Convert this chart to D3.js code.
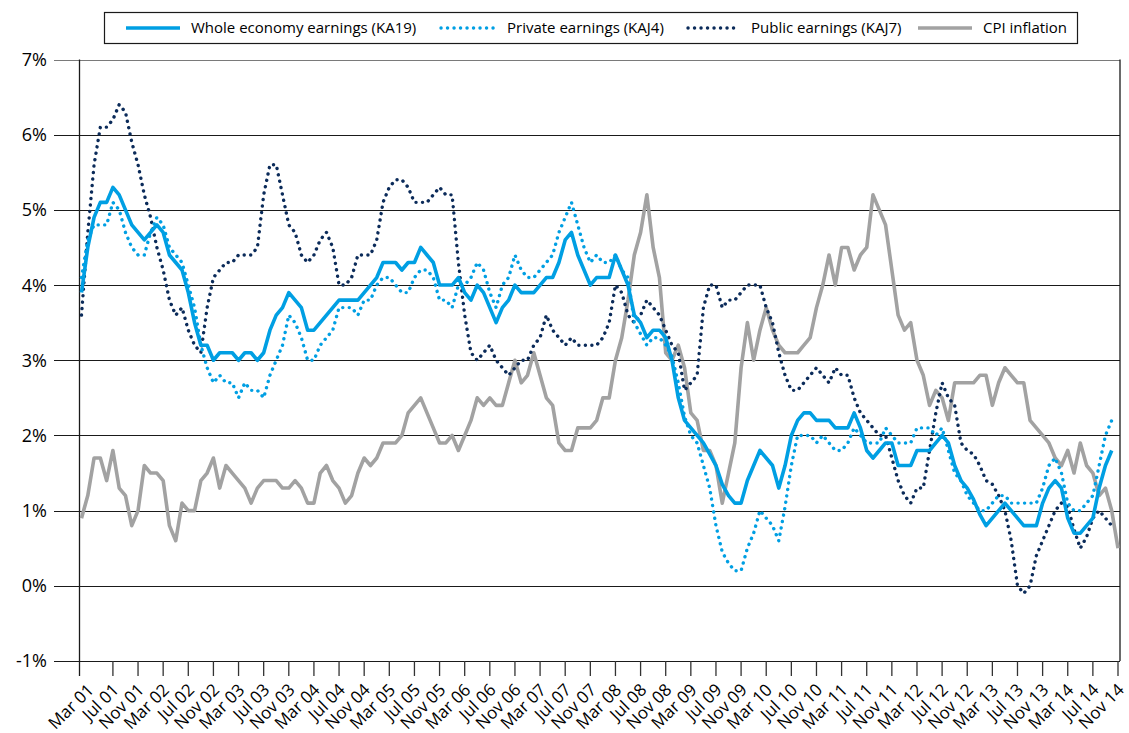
<!DOCTYPE html>
<meta charset="utf-8">
<style>
body { margin: 0; background: #fff; }
svg text { font-family: "Open Sans", sans-serif; fill: #000; }
</style>
<body>
<script src="https://d3js.org/d3.v7.min.js"></script>
<script>

// labels on the month axis, every fourth month
var tickLabels = [
  "Mar 01","Jul 01","Nov 01","Mar 02","Jul 02","Nov 02","Mar 03","Jul 03","Nov 03",
  "Mar 04","Jul 04","Nov 04","Mar 05","Jul 05","Nov 05","Mar 06","Jul 06","Nov 06",
  "Mar 07","Jul 07","Nov 07","Mar 08","Jul 08","Nov 08","Mar 09","Jul 09","Nov 09",
  "Mar 10","Jul 10","Nov 10","Mar 11","Jul 11","Nov 11","Mar 12","Jul 12","Nov 12",
  "Mar 13","Jul 13","Nov 13","Mar 14","Jul 14","Nov 14"];

var yTicks = [-1, 0, 1, 2, 3, 4, 5, 6, 7];

var seriesNames = ["Whole economy earnings (KA19)", "Private earnings (KAJ4)",
                   "Public earnings (KAJ7)", "CPI inflation"];

// monthly values, Mar 2001 onwards (%)
var whole = [
  3.9,4.5,4.9,5.1,5.1,5.3,5.2,5.0,4.8,4.7,
  4.6,4.7,4.8,4.7,4.4,4.3,4.2,3.9,3.5,3.2,3.2,3.0,
  3.1,3.1,3.1,3.0,3.1,3.1,3.0,3.1,3.4,3.6,3.7,3.9,
  3.8,3.7,3.4,3.4,3.5,3.6,3.7,3.8,3.8,3.8,3.8,3.9,
  4.0,4.1,4.3,4.3,4.3,4.2,4.3,4.3,4.5,4.4,4.3,4.0,
  4.0,4.0,4.1,3.9,3.8,4.0,3.9,3.7,3.5,3.7,3.8,4.0,
  3.9,3.9,3.9,4.0,4.1,4.1,4.3,4.6,4.7,4.4,4.2,4.0,
  4.1,4.1,4.1,4.4,4.2,4.0,3.6,3.5,3.3,3.4,3.4,3.3,
  3.0,2.5,2.2,2.1,2.0,1.9,1.75,1.6,1.35,1.2,1.1,1.1,
  1.4,1.6,1.8,1.7,1.6,1.3,1.6,2.0,2.2,2.3,2.3,2.2,
  2.2,2.2,2.1,2.1,2.1,2.3,2.1,1.8,1.7,1.8,1.9,1.9,
  1.6,1.6,1.6,1.8,1.8,1.8,1.9,2.0,1.9,1.6,1.4,1.3,
  1.15,0.95,0.8,0.9,1.0,1.1,1.0,0.9,0.8,0.8,0.8,1.1,
  1.3,1.4,1.3,0.9,0.7,0.7,0.8,0.9,1.3,1.6,1.8];

var privateSector = [
  4.1,4.6,4.8,4.8,4.8,5.1,5.0,4.7,4.5,4.4,
  4.4,4.7,4.9,4.8,4.5,4.4,4.3,4.0,3.7,3.2,2.9,2.7,
  2.8,2.7,2.7,2.5,2.7,2.6,2.6,2.5,2.8,3.0,3.2,3.6,
  3.5,3.3,3.0,3.0,3.2,3.3,3.4,3.7,3.7,3.7,3.6,3.8,
  3.8,4.0,4.1,4.1,4.0,3.9,3.9,4.1,4.2,4.2,4.1,3.8,
  3.8,3.7,4.0,4.0,4.1,4.3,4.2,3.9,3.7,4.0,4.1,4.4,
  4.2,4.1,4.1,4.2,4.3,4.4,4.7,4.9,5.1,4.8,4.5,4.3,
  4.4,4.3,4.3,4.4,4.2,4.1,3.5,3.35,3.2,3.3,3.3,3.2,
  3.05,2.7,2.25,2.0,1.9,1.6,1.3,0.8,0.45,0.3,0.2,0.2,
  0.5,0.7,1.0,0.9,0.8,0.6,1.05,1.6,2.0,2.0,2.0,1.9,
  2.0,1.9,1.8,1.8,1.9,2.1,2.0,1.9,1.9,1.9,2.1,2.0,
  1.9,1.9,1.9,2.1,2.1,2.1,2.0,2.1,1.8,1.5,1.4,1.2,
  1.1,1.0,1.0,1.1,1.2,1.2,1.1,1.1,1.1,1.1,1.1,1.3,
  1.6,1.7,1.5,1.1,1.0,1.0,1.1,1.2,1.6,2.0,2.2];

var publicSector = [
  3.6,4.7,5.6,6.1,6.1,6.2,6.4,6.3,5.9,5.6,
  5.2,4.9,4.5,4.2,3.8,3.6,3.7,3.4,3.2,3.1,3.7,4.1,
  4.2,4.3,4.3,4.4,4.4,4.4,4.5,5.2,5.6,5.6,5.2,4.8,
  4.7,4.4,4.3,4.4,4.6,4.7,4.5,4.0,4.0,4.1,4.4,4.4,
  4.4,4.6,5.1,5.3,5.4,5.4,5.3,5.1,5.1,5.1,5.2,5.3,
  5.2,5.2,4.3,3.6,3.1,3.0,3.1,3.2,3.0,2.9,2.8,2.9,
  3.0,3.0,3.2,3.3,3.6,3.4,3.3,3.2,3.3,3.2,3.2,3.2,
  3.2,3.3,3.5,4.0,3.9,3.6,3.5,3.6,3.8,3.7,3.6,3.4,
  3.2,3.1,2.6,2.7,2.8,3.7,4.0,4.0,3.7,3.8,3.8,3.9,
  4.0,4.0,4.0,3.7,3.5,3.1,2.8,2.6,2.6,2.7,2.8,2.9,
  2.8,2.7,2.9,2.8,2.8,2.5,2.3,2.2,2.1,2.0,2.0,1.7,
  1.4,1.2,1.1,1.3,1.3,1.8,2.3,2.7,2.5,2.4,1.9,1.8,
  1.75,1.6,1.4,1.35,1.2,1.0,0.6,0.0,-0.1,0.0,0.4,0.6,
  0.8,1.0,1.1,1.05,0.75,0.5,0.65,0.9,1.0,0.9,0.8];

var cpi = [
  0.9,1.2,1.7,1.7,1.4,1.8,1.3,1.2,0.8,1.0,
  1.6,1.5,1.5,1.4,0.8,0.6,1.1,1.0,1.0,1.4,1.5,1.7,
  1.3,1.6,1.5,1.4,1.3,1.1,1.3,1.4,1.4,1.4,1.3,1.3,
  1.4,1.3,1.1,1.1,1.5,1.6,1.4,1.3,1.1,1.2,1.5,1.7,
  1.6,1.7,1.9,1.9,1.9,2.0,2.3,2.4,2.5,2.3,2.1,1.9,
  1.9,2.0,1.8,2.0,2.2,2.5,2.4,2.5,2.4,2.4,2.7,3.0,
  2.7,2.8,3.1,2.8,2.5,2.4,1.9,1.8,1.8,2.1,2.1,2.1,
  2.2,2.5,2.5,3.0,3.3,3.8,4.4,4.7,5.2,4.5,4.1,3.1,
  3.0,3.2,2.9,2.3,2.2,1.8,1.8,1.6,1.1,1.5,1.9,2.9,
  3.5,3.0,3.4,3.7,3.4,3.2,3.1,3.1,3.1,3.2,3.3,3.7,
  4.0,4.4,4.0,4.5,4.5,4.2,4.4,4.5,5.2,5.0,4.8,4.2,
  3.6,3.4,3.5,3.0,2.8,2.4,2.6,2.5,2.2,2.7,2.7,2.7,
  2.7,2.8,2.8,2.4,2.7,2.9,2.8,2.7,2.7,2.2,2.1,2.0,
  1.9,1.7,1.6,1.8,1.5,1.9,1.6,1.5,1.2,1.3,1.0,0.5];

// plot frame
var W = 1129, H = 733;
var plotLeft = 80, plotRight = 1120, plotTop = 59.5, plotBottom = 661;

var x = d3.scaleLinear().domain([0, cpi.length - 1]).range([81.5, 1118]);
var y = d3.scaleLinear().domain([-1, 7]).range([plotBottom, plotTop]);

var svg = d3.select("body").append("svg")
    .attr("width", W)
    .attr("height", H);

// horizontal grid + y ticks
svg.append("g").selectAll("line")
    .data(yTicks)
  .enter().append("line")
    .attr("x1", 54).attr("x2", plotRight)
    .attr("y1", d => Math.round(y(d)) + 0.5)
    .attr("y2", d => Math.round(y(d)) + 0.5)
    .attr("stroke", d => d == 7 ? "#7a7a7a" : "#1a1a1a")
    .attr("stroke-width", 1.2);

svg.append("g").selectAll("text")
    .data(yTicks)
  .enter().append("text")
    .attr("x", 47)
    .attr("y", d => y(d))
    .attr("dy", "0.36em")
    .attr("text-anchor", "end")
    .style("font-size", "18px")
    .text(d => d + "%");

// left spine (runs down as first tick) and right border
svg.append("line")
    .attr("x1", plotLeft - 0.5).attr("x2", plotLeft - 0.5)
    .attr("y1", plotTop).attr("y2", plotBottom + 15)
    .attr("stroke", "#1a1a1a").attr("stroke-width", 1.3);
svg.append("line")
    .attr("x1", plotRight).attr("x2", plotRight)
    .attr("y1", plotTop).attr("y2", plotBottom)
    .attr("stroke", "#1a1a1a").attr("stroke-width", 1.3);

// month ticks and labels
var labelIdx = tickLabels.map((d, i) => 1 + 4 * i);

svg.append("g").selectAll("line")
    .data(labelIdx.slice(1))
  .enter().append("line")
    .attr("x1", d => x(d)).attr("x2", d => x(d))
    .attr("y1", plotBottom).attr("y2", plotBottom + 15)
    .attr("stroke", "#333").attr("stroke-width", 1.3);

svg.append("g").selectAll("text")
    .data(labelIdx)
  .enter().append("text")
    .attr("transform", d => `translate(${x(d) + 7},${plotBottom + 30}) rotate(-45)`)
    .attr("text-anchor", "end")
    .style("font-size", "17px")
    .text((d, i) => tickLabels[i]);

// series
var line = d3.line()
    .x((d, i) => x(i))
    .y(d => y(d));

var series = [
  {data: whole, color: "#009fe3", dash: null},
  {data: privateSector, color: "#009fe3", dash: "0.1 6.4"},
  {data: publicSector, color: "#0b2b5a", dash: "0.1 6.4"},
  {data: cpi, color: "#a2a2a2", dash: null}
];

// cpi first so the earnings lines sit on top of it
[3, 2, 1, 0].forEach(function(k) {
  var s = series[k];
  svg.append("path")
      .datum(s.data)
      .attr("fill", "none")
      .attr("stroke", s.color)
      .attr("stroke-width", s.dash ? 3.4 : 3.6)
      .attr("stroke-linejoin", "round")
      .attr("stroke-linecap", s.dash ? "round" : "butt")
      .attr("stroke-dasharray", s.dash)
      .attr("d", line);
});

// legend
var legend = svg.append("g");
legend.append("rect")
    .attr("x", 104.5).attr("y", 12.5)
    .attr("width", 973).attr("height", 31)
    .attr("fill", "#fff")
    .attr("stroke", "#1a1a1a")
    .attr("stroke-width", 1.2);

var legendPos = [[126, 180, 191], [441, 495, 507], [688, 739, 751], [918, 972, 983]];

seriesNames.forEach(function(name, k) {
  var p = legendPos[k], s = series[k];
  legend.append("line")
      .attr("x1", p[0]).attr("x2", p[1])
      .attr("y1", 28).attr("y2", 28)
      .attr("stroke", s.color)
      .attr("stroke-width", s.dash ? 3.4 : 3.6)
      .attr("stroke-linecap", s.dash ? "round" : "butt")
      .attr("stroke-dasharray", s.dash);
  legend.append("text")
      .attr("x", p[2]).attr("y", 28)
      .attr("dy", "0.35em")
      .style("font-size", "15px")
      .text(name);
});

</script>
</body>
</html>
